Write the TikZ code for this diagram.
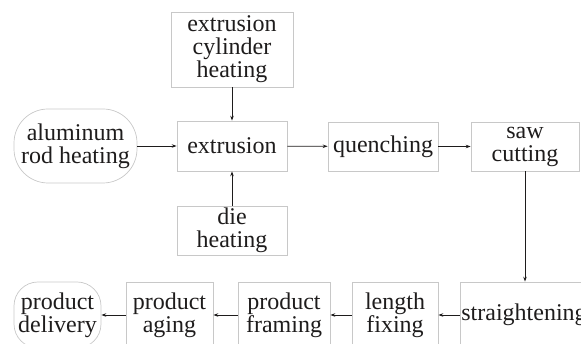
\documentclass[tikz,border=0pt]{standalone}
\usepackage{fontspec}
\setmainfont{Liberation Serif}
\usetikzlibrary{arrows.meta}
\definecolor{boxgray}{RGB}{200,200,200}
\definecolor{txt}{RGB}{30,28,28}
\tikzset{
  procbox/.style={draw=boxgray, line width=0.7pt, align=center, inner sep=0pt,
    text=txt, font=\fontsize{24}{23}\selectfont},
  roundbox/.style={procbox, rounded corners=34pt},
  flow/.style={line width=0.8pt, draw=txt, -{Stealth[length=5pt,width=3.5pt]}}
}
\begin{document}
\begin{tikzpicture}[x=1pt,y=1pt]
\useasboundingbox (0,0) rectangle (581,344);
\clip (0,0) rectangle (581,344);
\node[procbox, minimum width=122pt, minimum height=75pt] (ech) at (232,294.5) {extrusion\\cylinder\\heating};
\node[procbox, minimum width=110pt, minimum height=50pt] (ext) at (232,198) {extrusion};
\node[roundbox, minimum width=123pt, minimum height=74pt] (alu) at (75.5,198) {aluminum\\rod heating};
\node[procbox, minimum width=110pt, minimum height=49pt] (que) at (383,197.5) {quenching};
\node[procbox, minimum width=108pt, minimum height=49pt] (saw) at (525,197.5) {saw\\cutting};
\node[procbox, minimum width=110pt, minimum height=49pt] (die) at (232,113.5) {die\\heating};
\node[roundbox, rounded corners=24pt, minimum width=87pt, minimum height=66pt] (pd) at (57.5,29) {product\\delivery};
\node[procbox, minimum width=87pt, minimum height=66pt] (pa) at (169.5,29) {product\\aging};
\node[procbox, minimum width=92pt, minimum height=66pt] (pf) at (284,29) {product\\framing};
\node[procbox, minimum width=86pt, minimum height=66pt] (lf) at (395,29) {length\\fixing};
\node[procbox, minimum width=128pt, minimum height=66pt] (st) at (524,29) {straightening};
\draw[flow] (alu) -- (ext);
\draw[flow] (ech) -- (ext);
\draw[flow] (die) -- (ext);
\draw[flow] (ext) -- (que);
\draw[flow] (que) -- (saw);
\draw[flow] (saw.south) -- (saw.south |- st.north);
\draw[flow] (st) -- (lf);
\draw[flow] (lf) -- (pf);
\draw[flow] (pf) -- (pa);
\draw[flow] (pa) -- (pd);
\end{tikzpicture}
\end{document}
